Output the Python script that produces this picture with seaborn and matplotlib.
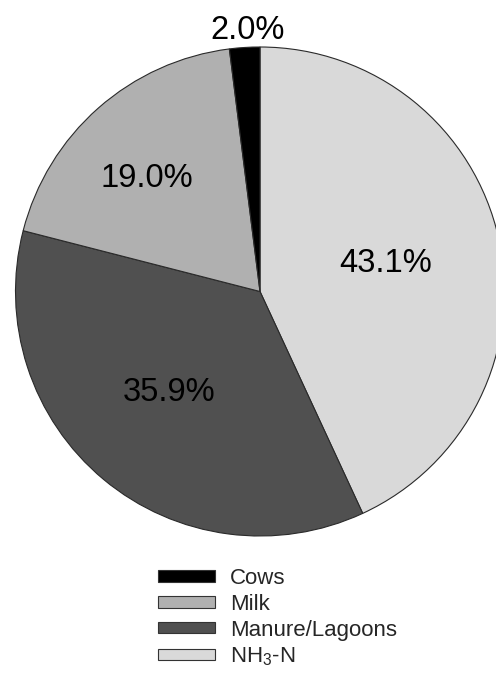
import numpy as np
import matplotlib
matplotlib.use("Agg")
import matplotlib.pyplot as plt
import seaborn as sns
from matplotlib.patches import Patch

# Data (clockwise from 12 o'clock)
sources = ["NH$_3$-N", "Manure/Lagoons", "Milk", "Cows"]
shares = [43.1, 35.9, 19.0, 2.0]
colors = ["#d9d9d9", "#505050", "#b0b0b0", "#000000"]
legend_order = ["Cows", "Milk", "Manure/Lagoons", "NH$_3$-N"]
# label placement: radius and angle nudge (deg) from the wedge middle
label_radius = [0.53, 0.545, 0.665, 1.085]
label_nudge = [1.5, -3.3, 2.8, -1.0]

sns.set_style("white")
plt.rcParams['font.family'] = ['Liberation Sans', 'DejaVu Sans']
plt.rcParams['mathtext.default'] = 'regular'

fig = plt.figure(figsize=(4.96, 6.77), dpi=100)
ax = fig.add_axes([15.5 / 496, 141 / 677, 489 / 496, 489 / 677])

wedges, _ = ax.pie(shares, colors=colors, startangle=90, counterclock=False,
                   wedgeprops=dict(edgecolor="#2a2a2a", linewidth=0.8))

# percentage labels
for w, val, r, d in zip(wedges, shares, label_radius, label_nudge):
    ang = np.deg2rad((w.theta1 + w.theta2) / 2 + d)
    ax.text(r * np.cos(ang), r * np.sin(ang) - 0.015, f"{val:.1f}%",
            ha="center", va="center", fontsize=23.5, color="black")

ax.set_xlim(-1, 1)
ax.set_ylim(-1, 1)
ax.set_aspect("equal")
ax.axis("off")
for w in wedges:
    w.set_clip_on(False)

handles = []
for name in legend_order:
    i = sources.index(name)
    handles.append(Patch(facecolor=colors[i], edgecolor="#333333", linewidth=0.8, label=name))

fig.legend(handles=handles, loc="upper left", bbox_to_anchor=(158 / 496, 1 - 568 / 677),
           frameon=False, fontsize=16, borderpad=0, borderaxespad=0,
           handlelength=2.55, handleheight=0.4, handletextpad=0.7, labelspacing=0.22)

fig.savefig("out.png", dpi=100)
